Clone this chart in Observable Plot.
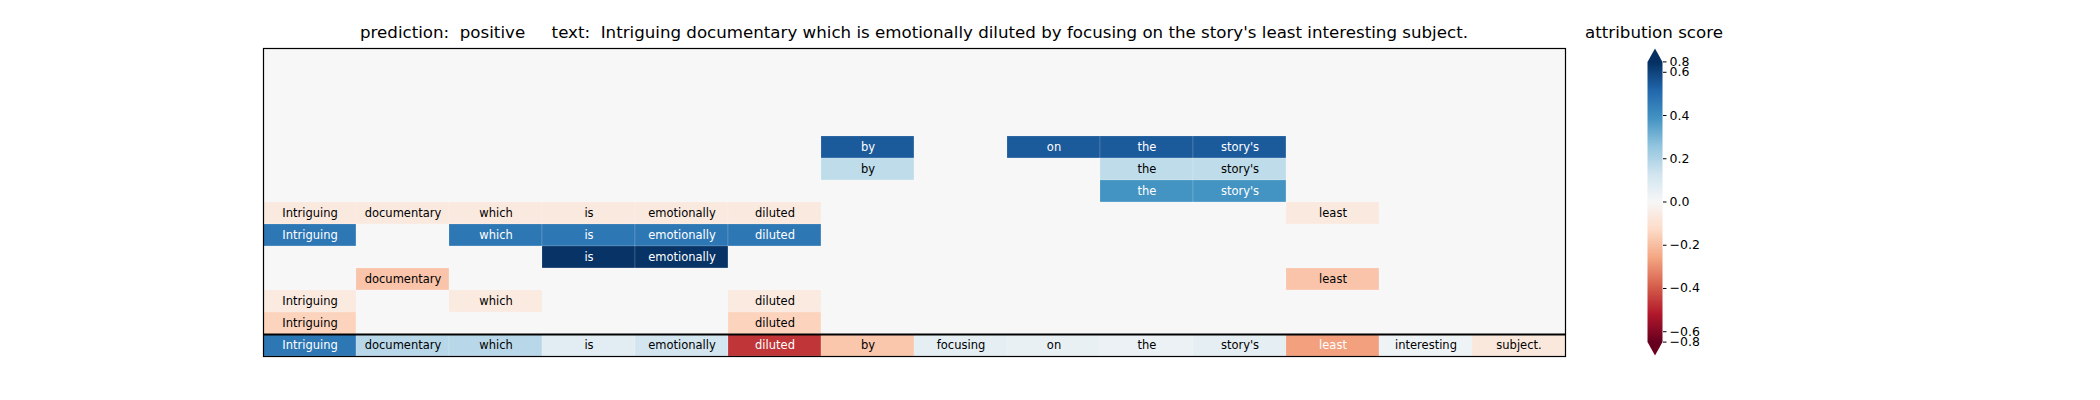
<!DOCTYPE html>
<html>
<head>
<meta charset="utf-8">
<script src="https://cdn.jsdelivr.net/npm/d3@7"></script>
<script src="https://cdn.jsdelivr.net/npm/@observablehq/plot@0.6"></script>
<style>
  html, body { margin: 0; padding: 0; background: #ffffff; }
  #wrap { position: relative; width: 2100px; height: 400px; font-family: "DejaVu Sans", sans-serif; color: #000; }
  .ttl { position: absolute; font-size: 16.67px; line-height: 20px; white-space: pre; transform: translateX(-50%); }
  #main, #cbar { position: absolute; top: 0; }
  #main { left: 0; }
  #cbar { left: 1600px; }
</style>
</head>
<body>
<div id="wrap">
  <div id="main"></div>
  <div id="cbar"></div>
  <div class="ttl" id="title1" style="left:914px; top:23px;"></div>
  <div class="ttl" id="title2" style="left:1654px; top:23px;"></div>
</div>
<script>
// ---- data ----
const prediction = "positive";
const words = ["Intriguing", "documentary", "which", "is", "emotionally", "diluted", "by",
               "focusing", "on", "the", "story's", "least", "interesting", "subject."];

// perturbation rows (top to bottom); 0 = word not highlighted
const row0  = [0, 0, 0, 0, 0, 0, 0, 0, 0, 0, 0, 0, 0, 0];
const row1  = [0, 0, 0, 0, 0, 0, 0, 0, 0, 0, 0, 0, 0, 0];
const row2  = [0, 0, 0, 0, 0, 0, 0, 0, 0, 0, 0, 0, 0, 0];
const row3  = [0, 0, 0, 0, 0, 0, 0, 0, 0, 0, 0, 0, 0, 0];
const row4  = [0, 0, 0, 0, 0, 0, 0.547, 0, 0.547, 0.547, 0.547, 0, 0, 0];
const row5  = [0, 0, 0, 0, 0, 0, 0.166, 0, 0, 0.166, 0.166, 0, 0, 0];
const row6  = [0, 0, 0, 0, 0, 0, 0, 0, 0, 0.389, 0.389, 0, 0, 0];
const row7  = [-0.065, -0.065, -0.065, -0.065, -0.065, -0.065, 0, 0, 0, 0, 0, -0.065, 0, 0];
const row8  = [0.469, 0, 0.469, 0.469, 0.469, 0.469, 0, 0, 0, 0, 0, 0, 0, 0];
const row9  = [0, 0, 0, 0.64, 0.64, 0, 0, 0, 0, 0, 0, 0, 0, 0];
const row10 = [0, -0.185, 0, 0, 0, 0, 0, 0, 0, 0, 0, -0.185, 0, 0];
const row11 = [-0.062, 0, -0.062, 0, 0, -0.062, 0, 0, 0, 0, 0, 0, 0, 0];
const row12 = [-0.146, 0, 0, 0, 0, -0.146, 0, 0, 0, 0, 0, 0, 0, 0];
// attribution of each word of the full sentence (bottom row)
const attribution = [0.469, 0.181, 0.181, 0.071, 0.122, -0.467, -0.18, 0.065, 0.05, 0.04, 0.065, -0.268, 0.03, -0.07];

const rows = [row0, row1, row2, row3, row4, row5, row6, row7, row8, row9, row10, row11, row12, attribution];

// colour bar
const vmax = 0.648;
const cbarTicks = [vmax, 0.6, 0.4, 0.2, 0, -0.2, -0.4, -0.6, -vmax];
const cbarLabels = ["0.8", "0.6", "0.4", "0.2", "0.0", "\u22120.2", "\u22120.4", "\u22120.6", "\u22120.8"];

// ---- styles ----
const RdBu = ["#67001f", "#b2182b", "#d6604d", "#f4a582", "#fddbc7", "#f7f7f7",
              "#d1e5f0", "#92c5de", "#4393c3", "#2166ac", "#053061"];
const colorOpts = {
  type: "linear",
  domain: RdBu.map((_, i) => -vmax + (2 * vmax) * i / (RdBu.length - 1)),
  range: RdBu,
  interpolate: "rgb",
  clamp: true
};
const font = "DejaVu Sans";
const textThreshold = 0.25;

document.getElementById("title1").textContent =
  "prediction:  " + prediction + "     text:  " + words.join(" ");
document.getElementById("title2").textContent = "attribution score";

const cells = [];
rows.forEach((r, ri) => r.forEach((v, ci) => cells.push({r: ri, c: ci, v})));
const labeled = cells.filter(d => d.v !== 0);

const main = Plot.plot({
  width: 2100,
  height: 400,
  marginLeft: 263,
  marginRight: 535,
  marginTop: 48,
  marginBottom: 44,
  style: {fontFamily: font, background: "transparent"},
  x: {domain: [0, words.length], axis: null},
  y: {domain: [0, rows.length], reverse: true, axis: null},
  color: colorOpts,
  marks: [
    Plot.rect(cells, {
      x1: "c", x2: d => d.c + 1, y1: "r", y2: d => d.r + 1,
      fill: "v", stroke: "white", strokeOpacity: 0.3, strokeWidth: 0.5
    }),
    Plot.text(labeled.filter(d => Math.abs(d.v) <= textThreshold), {
      x: d => d.c + 0.5, y: d => d.r + 0.5, text: d => words[d.c],
      fill: "black", fontSize: 11.5
    }),
    Plot.text(labeled.filter(d => Math.abs(d.v) > textThreshold), {
      x: d => d.c + 0.5, y: d => d.r + 0.5, text: d => words[d.c],
      fill: "white", fontSize: 11.5
    }),
    Plot.ruleY([rows.length - 1], {stroke: "black", strokeWidth: 2}),
    Plot.frame({stroke: "black", strokeWidth: 1.2})
  ]
});
document.getElementById("main").appendChild(main);

const ext = 0.062;
const topArrow = [{x: 0, y: vmax, v: vmax}, {x: 1, y: vmax, v: vmax}, {x: 0.5, y: vmax + ext, v: vmax}];
const botArrow = [{x: 0, y: -vmax, v: -vmax}, {x: 1, y: -vmax, v: -vmax}, {x: 0.5, y: -vmax - ext, v: -vmax}];

const cbar = Plot.plot({
  width: 200,
  height: 400,
  marginLeft: 47,
  marginRight: 138,
  marginTop: 48,
  marginBottom: 45,
  style: {fontFamily: font, background: "transparent", color: "black"},
  x: {domain: [0, 1], axis: null},
  y: {domain: [-(vmax + ext), vmax + ext], axis: null},
  color: colorOpts,
  marks: [
    Plot.raster({x1: 0, x2: 1, y1: -vmax, y2: vmax, width: 1, height: 300, fill: (x, y) => y, imageRendering: "auto"}),
    Plot.line(topArrow, {x: "x", y: "y", fill: "v", stroke: "none"}),
    Plot.line(botArrow, {x: "x", y: "y", fill: "v", stroke: "none"}),
    Plot.axisY(cbarTicks, {
      anchor: "right", label: null, tickSize: 3.5, tickPadding: 3.5, fontSize: 12.5,
      tickFormat: d => cbarLabels[cbarTicks.indexOf(d)]
    })
  ]
});
document.getElementById("cbar").appendChild(cbar);
</script>
</body>
</html>
